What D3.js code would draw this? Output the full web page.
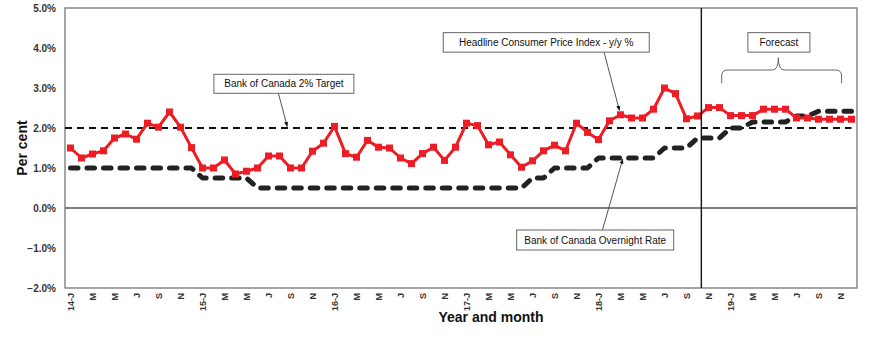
<!DOCTYPE html>
<html>
<head>
<meta charset="utf-8">
<script src="https://cdn.jsdelivr.net/npm/d3@7"></script>
<style>
  html, body { margin: 0; padding: 0; background: #fff; }
  svg { display: block; font-family: "Liberation Sans", Arial, sans-serif; }
</style>
</head>
<body>
<svg id="chart" width="870" height="341"></svg>
<script>
// ---------------- DATA ----------------
// Months: Jan 2014 .. Dec 2019 (72 monthly categories)
const xLabels = [
  "14-J","M","M","J","S","N",
  "15-J","M","M","J","S","N",
  "16-J","M","M","J","S","N",
  "17-J","M","M","J","S","N",
  "18-J","M","M","J","S","N",
  "19-J","M","M","J","S","N"
];
// Headline CPI y/y % (actual to Oct 2018, forecast after)
const cpi = [
  1.50, 1.25, 1.35, 1.43, 1.75, 1.85, 1.72, 2.12, 2.02, 2.40, 2.02, 1.51,
  1.00, 1.00, 1.20, 0.85, 0.92, 1.00, 1.30, 1.30, 1.00, 1.00, 1.42, 1.62,
  2.04, 1.36, 1.27, 1.69, 1.52, 1.50, 1.25, 1.11, 1.36, 1.52, 1.19, 1.52,
  2.12, 2.06, 1.58, 1.65, 1.33, 1.02, 1.18, 1.43, 1.57, 1.43, 2.12, 1.89,
  1.71, 2.18, 2.33, 2.25, 2.25, 2.47, 3.00, 2.86, 2.23, 2.30, 2.51, 2.51,
  2.31, 2.31, 2.31, 2.47, 2.47, 2.47, 2.25, 2.25, 2.22, 2.22, 2.22, 2.22
];
// Bank of Canada overnight rate %
const rate = [
  1.00, 1.00, 1.00, 1.00, 1.00, 1.00, 1.00, 1.00, 1.00, 1.00, 1.00, 1.00,
  0.75, 0.75, 0.75, 0.75, 0.75, 0.50, 0.50, 0.50, 0.50, 0.50, 0.50, 0.50,
  0.50, 0.50, 0.50, 0.50, 0.50, 0.50, 0.50, 0.50, 0.50, 0.50, 0.50, 0.50,
  0.50, 0.50, 0.50, 0.50, 0.50, 0.50, 0.75, 0.75, 1.00, 1.00, 1.00, 1.00,
  1.25, 1.25, 1.25, 1.25, 1.25, 1.25, 1.50, 1.50, 1.50, 1.75, 1.75, 1.75,
  2.00, 2.00, 2.15, 2.15, 2.15, 2.15, 2.30, 2.30, 2.42, 2.42, 2.42, 2.42
];
const target = 2.0;
const yTicks = [-2, -1, 0, 1, 2, 3, 4, 5];
const forecastStart = 57.35; // position (in months from Jan 2014) of the forecast divider

// ---------------- LAYOUT ----------------
const svg = d3.select("#chart");
const L = 65, R = 857, T = 8, B = 288;
const n = cpi.length;
const x = d3.scaleBand().domain(d3.range(n)).range([L, R]).padding(0);
const bw = x.bandwidth();
const cx = i => x(i) + bw / 2;
const xi = d3.scaleLinear().domain([0, n - 1]).range([cx(0), cx(n - 1)]); // fractional month positions
const y = d3.scaleLinear().domain([-2, 5]).range([B, T]);

// defs: arrowhead
const defs = svg.append("defs");
defs.append("marker").attr("id", "arr")
  .attr("viewBox", "0 0 10 10").attr("refX", 9).attr("refY", 5)
  .attr("markerWidth", 5).attr("markerHeight", 5).attr("orient", "auto")
  .append("path").attr("d", "M0,1 L10,5 L0,9 Z").attr("fill", "#111");

// zero line
svg.append("line")
  .attr("x1", L).attr("x2", R).attr("y1", y(0)).attr("y2", y(0))
  .attr("stroke", "#555").attr("stroke-width", 1.3);

// frame (left, bottom, top, right)
svg.append("rect").attr("x", L).attr("y", T).attr("width", R - L).attr("height", B - T)
  .attr("fill", "none").attr("stroke", "#808080").attr("stroke-width", 1.4);

// Y axis labels
const yAxis = d3.axisLeft(y).tickValues(yTicks).tickSize(0).tickPadding(9)
  .tickFormat(d => d3.format(".1f")(d) + "%");
const gy = svg.append("g").attr("transform", `translate(${L},0)`).call(yAxis);
gy.select(".domain").remove();
gy.selectAll("text").attr("font-size", 10).attr("font-weight", "bold")
  .attr("fill", "#333").attr("font-family", "Liberation Sans, Arial, sans-serif");

// X axis labels (every other month)
const xTickIdx = d3.range(0, n, 2);
const xAxis = d3.axisBottom(x).tickValues(xTickIdx).tickSize(0)
  .tickFormat(d => xLabels[d / 2]);
const gx = svg.append("g").attr("transform", `translate(0,${B})`).call(xAxis);
gx.select(".domain").remove();
gx.selectAll("text")
  .attr("y", 0).attr("x", -5).attr("dy", "0.35em")
  .attr("transform", "rotate(-90)")
  .style("text-anchor", "end")
  .attr("font-size", 9).attr("font-weight", "bold").attr("fill", "#333")
  .attr("font-family", "Liberation Sans, Arial, sans-serif");

// Axis titles
svg.append("text").attr("transform", `translate(27,${(T + B) / 2}) rotate(-90)`)
  .attr("text-anchor", "middle").attr("font-size", 14).attr("font-weight", "bold")
  .attr("fill", "#111").text("Per cent");
svg.append("text").attr("x", 491).attr("y", 322)
  .attr("text-anchor", "middle").attr("font-size", 14).attr("font-weight", "bold")
  .attr("fill", "#111").text("Year and month");

// Target line (thin dashed)
svg.append("line")
  .attr("x1", L).attr("x2", cx(n - 1)).attr("y1", y(target)).attr("y2", y(target))
  .attr("stroke", "#111").attr("stroke-width", 2.2).attr("stroke-dasharray", "7,5");

// Overnight rate (thick dashed)
const line = d3.line().x((d, i) => cx(i)).y(d => y(d));
svg.append("path").datum(rate).attr("d", line)
  .attr("fill", "none").attr("stroke", "#222").attr("stroke-width", 5)
  .attr("stroke-linecap", "round").attr("stroke-linejoin", "round")
  .attr("stroke-dasharray", "7.5,9");

// CPI line + square markers
const red = "#ee1c25";
svg.append("path").datum(cpi).attr("d", line)
  .attr("fill", "none").attr("stroke", red).attr("stroke-width", 3)
  .attr("stroke-linejoin", "round");
svg.append("g").selectAll("rect").data(cpi).join("rect")
  .attr("x", (d, i) => cx(i) - 3.5).attr("y", d => y(d) - 3.5)
  .attr("width", 7).attr("height", 7).attr("fill", red);

// Forecast divider
svg.append("line")
  .attr("x1", xi(forecastStart)).attr("x2", xi(forecastStart))
  .attr("y1", T).attr("y2", B)
  .attr("stroke", "#111").attr("stroke-width", 1.4);

// ---------------- ANNOTATIONS ----------------
function box(cIdx, cVal, w, h, label, from, to) {
  const cxp = xi(cIdx), cyp = y(cVal);
  if (from && to) {
    svg.append("line")
      .attr("x1", xi(from[0])).attr("y1", y(from[1]))
      .attr("x2", xi(to[0])).attr("y2", y(to[1]))
      .attr("stroke", "#555").attr("stroke-width", 1)
      .attr("marker-end", "url(#arr)");
  }
  svg.append("rect").attr("x", cxp - w / 2).attr("y", cyp - h / 2)
    .attr("width", w).attr("height", h)
    .attr("fill", "#fff").attr("stroke", "#666").attr("stroke-width", 1);
  svg.append("text").attr("x", cxp).attr("y", cyp).attr("dy", "0.35em")
    .attr("text-anchor", "middle").attr("font-size", 10).attr("fill", "#111")
    .text(label);
}
box(19.4, 3.105, 140, 19, "Bank of Canada 2% Target", [18.9, 2.87], [19.7, 2.04]);
box(43.25, 4.14, 206, 19.5, "Headline Consumer Price Index - y/y %", [48.5, 3.9], [49.9, 2.44]);
box(47.7, -0.8, 157, 20, "Bank of Canada Overnight Rate", [48.35, -0.56], [50.2, 1.22]);
box(64.4, 4.14, 62, 19.5, "Forecast", null, null);

// Forecast brace
(function () {
  const x0 = xi(59.2), x1 = xi(70.1), xm = xi(64.35);
  const yE = y(3.12), yH = y(3.45), yTip = y(3.76);
  const r = 6;
  const p = `M${x0},${yE} L${x0},${yH + r} Q${x0},${yH} ${x0 + r},${yH} ` +
            `L${xm - r},${yH} Q${xm},${yH} ${xm},${yTip} ` +
            `Q${xm},${yH} ${xm + r},${yH} L${x1 - r},${yH} Q${x1},${yH} ${x1},${yH + r} L${x1},${yE}`;
  svg.append("path").attr("d", p).attr("fill", "none")
    .attr("stroke", "#666").attr("stroke-width", 1);
})();
</script>
</body>
</html>
